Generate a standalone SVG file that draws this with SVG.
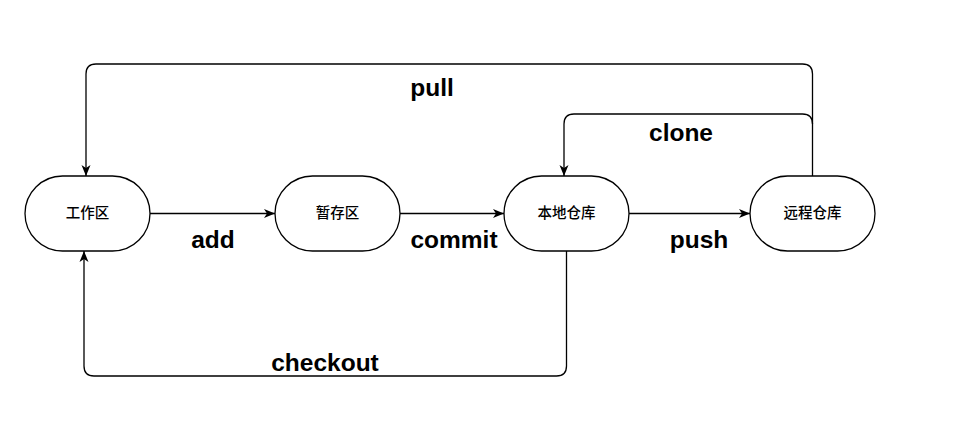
<svg xmlns="http://www.w3.org/2000/svg" width="959" height="442" viewBox="0 0 959 442">
<style>
.node{fill:#fff;stroke:#000;stroke-width:1.3}
.nt{font-family:"Noto Sans CJK SC","Liberation Sans",sans-serif;font-size:14.5px;font-weight:500;fill:#000;text-anchor:middle}
.edge{fill:none;stroke:#000;stroke-width:1.3}
.lbl{font-family:"Liberation Sans",Arial,sans-serif;font-size:24.5px;font-weight:bold;fill:#000;text-anchor:middle}
</style>
<defs>
<marker id="arr" viewBox="0 0 11 10" refX="11" refY="5" markerWidth="11" markerHeight="10" markerUnits="userSpaceOnUse" orient="auto">
<path d="M0,0.5 L11,5 L0,9.5 L3,5 Z" fill="#000"/>
</marker>
</defs>
<rect width="959" height="442" fill="#fff"/>
<g id="edges">
<path class="edge" d="M150,213.5 H275" marker-end="url(#arr)"/>
<path class="edge" d="M400,213.5 H504" marker-end="url(#arr)"/>
<path class="edge" d="M629,213.5 H750" marker-end="url(#arr)"/>
<path class="edge" d="M812.5,176 V74 Q812.5,64 802.5,64 H96 Q86,64 86,74 V176" marker-end="url(#arr)"/>
<path class="edge" d="M812.5,124 Q812.5,114 802.5,114 H574 Q564,114 564,124 V176" marker-end="url(#arr)"/>
<path class="edge" d="M566.5,251 V366 Q566.5,376 556.5,376 H94 Q84,376 84,366 V251" marker-end="url(#arr)"/>
<text class="lbl" x="213" y="248">add</text>
<text class="lbl" x="454" y="248">commit</text>
<text class="lbl" x="699" y="248">push</text>
<text class="lbl" x="432" y="96">pull</text>
<text class="lbl" x="681" y="141">clone</text>
<text class="lbl" x="325" y="371">checkout</text>
</g>
<g id="n1"><rect class="node" x="25" y="176" width="125" height="75" rx="37.5"/><text class="nt" x="87.5" y="218">工作区</text></g>
<g id="n2"><rect class="node" x="275" y="176" width="125" height="75" rx="37.5"/><text class="nt" x="337.5" y="218">暂存区</text></g>
<g id="n3"><rect class="node" x="504" y="176" width="125" height="75" rx="37.5"/><text class="nt" x="566.5" y="218">本地仓库</text></g>
<g id="n4"><rect class="node" x="750" y="176" width="125" height="75" rx="37.5"/><text class="nt" x="812.5" y="218">远程仓库</text></g>
</svg>
